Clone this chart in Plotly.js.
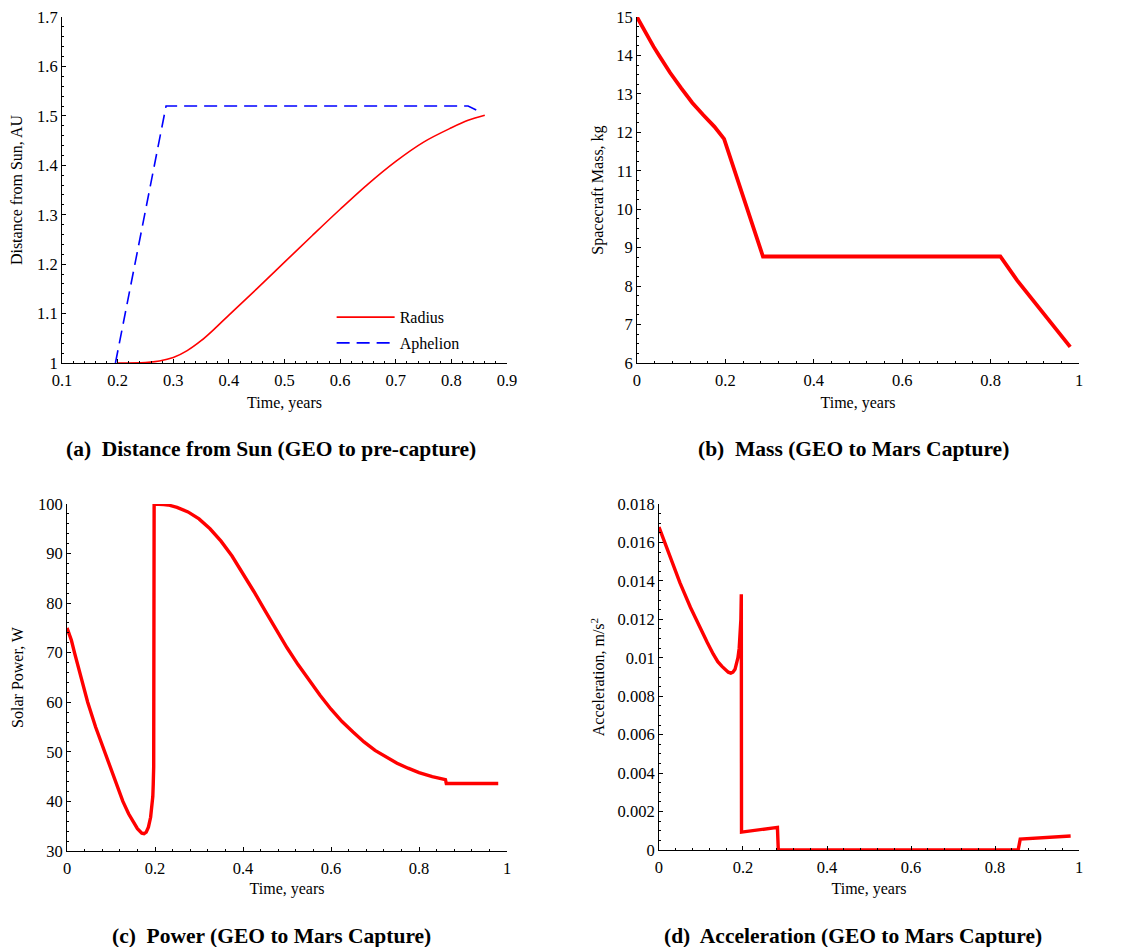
<!DOCTYPE html>
<html>
<head>
<meta charset="utf-8">
<script src="https://cdn.plot.ly/plotly-3.0.1.min.js"></script>
<style>html,body{margin:0;padding:0;background:#fff;}#chart{width:1128px;height:947px;}</style>
</head>
<body>
<div id="chart"></div>
<script>
// (a) Distance from Sun
const radiusT = [0.2, 0.25, 0.275, 0.3, 0.325, 0.35, 0.375, 0.4, 0.45, 0.5, 0.55, 0.6, 0.65, 0.7, 0.75, 0.8, 0.83, 0.86];
const radiusAU = [1.0, 1.001, 1.004, 1.011, 1.025, 1.045, 1.07, 1.097, 1.15, 1.204, 1.258, 1.311, 1.362, 1.408, 1.447, 1.476, 1.491, 1.5015];
const aphelionT = [0.196, 0.287, 0.83, 0.852];
const aphelionAU = [1.0, 1.52, 1.52, 1.508];
// (b) Mass
const massT = [0, 0.0125, 0.025, 0.0375, 0.05, 0.075, 0.1, 0.125, 0.15, 0.175, 0.197, 0.285, 0.822, 0.86, 0.98];
const massKg = [15.0, 14.73, 14.47, 14.23, 14.0, 13.55, 13.15, 12.77, 12.45, 12.15, 11.83, 8.77, 8.77, 8.15, 6.42];
// (c) Power
const powerT = [0, 0.01, 0.017, 0.03, 0.047, 0.065, 0.086, 0.105, 0.127, 0.14, 0.15, 0.16, 0.17, 0.175, 0.18, 0.185, 0.19, 0.193, 0.195, 0.196, 0.197,
                0.198, 0.21, 0.22, 0.23, 0.25, 0.275, 0.3, 0.325, 0.35, 0.375, 0.4, 0.425, 0.45, 0.475, 0.5, 0.525, 0.55, 0.575, 0.6, 0.625, 0.65, 0.675, 0.7, 0.725, 0.75, 0.775, 0.8, 0.83, 0.86, 0.862, 0.98];
const powerW = [75.0, 72.5, 70.0, 65.5, 60.0, 55.0, 50.0, 45.5, 40.0, 37.5, 36.0, 34.5, 33.6, 33.5, 33.8, 34.8, 36.8, 39.0, 41.0, 43.5, 47.0,
                100.0, 100.0, 99.9, 99.8, 99.3, 98.4, 97.0, 95.0, 92.5, 89.5, 86.0, 82.3, 78.5, 74.7, 71.0, 67.6, 64.5, 61.4, 58.6, 56.1, 54.0, 52.0, 50.3, 48.9, 47.7, 46.7, 45.8, 45.0, 44.4, 43.6, 43.6];
// (d) Acceleration
const accT = [0, 0.025, 0.05, 0.075, 0.1, 0.115, 0.129, 0.14, 0.15, 0.158, 0.165, 0.171, 0.176, 0.181, 0.185, 0.188, 0.191, 0.193, 0.195, 0.196,
              0.1965, 0.282, 0.284, 0.855, 0.86, 0.98];
const accMS2 = [0.0168, 0.01535, 0.0139, 0.01262, 0.01145, 0.0108, 0.0102, 0.0098, 0.00955, 0.0094, 0.00925, 0.0092, 0.00925, 0.0094, 0.0097, 0.0100, 0.0105, 0.0111, 0.0120, 0.0133,
                0.00093, 0.00118, 0.0, 0.0, 0.00057, 0.00073];

const captions = ['(a)  Distance from Sun (GEO to pre-capture)', '(b)  Mass (GEO to Mars Capture)', '(c)  Power (GEO to Mars Capture)', '(d)  Acceleration (GEO to Mars Capture)'];
const yTitles = ['Distance from Sun, AU', 'Spacecraft Mass, kg', 'Solar Power, W', 'Acceleration, m/s<sup>2</sup>'];
const xTitle = 'Time, years';

const FONT = '"Liberation Serif", "Times New Roman", serif';
const RED = '#ff0000', BLUE = '#0000ff';

const traces = [
  {x: radiusT, y: radiusAU, name: 'Radius', legendgroup: 'r', type: 'scatter', mode: 'lines', line: {color: RED, width: 1.6, shape: 'spline'}, xaxis: 'x', yaxis: 'y'},
  {x: aphelionT, y: aphelionAU, name: 'Aphelion', legendgroup: 'a', type: 'scatter', mode: 'lines', line: {color: BLUE, width: 1.6, dash: '13px,7px'}, xaxis: 'x', yaxis: 'y'},
  {x: massT, y: massKg, name: 'Mass', type: 'scatter', mode: 'lines', line: {color: RED, width: 3.8}, xaxis: 'x2', yaxis: 'y2', showlegend: false},
  {x: powerT, y: powerW, name: 'Power', type: 'scatter', mode: 'lines', line: {color: RED, width: 3.4}, xaxis: 'x3', yaxis: 'y3', showlegend: false},
  {x: accT, y: accMS2, name: 'Acceleration', type: 'scatter', mode: 'lines', line: {color: RED, width: 3.4}, xaxis: 'x4', yaxis: 'y4', showlegend: false}
];

function mn(d) { return {ticks: 'inside', ticklen: 2, tickcolor: '#000', tickwidth: 1, showgrid: false, dtick: d}; }
function ax(extra) {
  return Object.assign({
    showline: true, linecolor: '#000', linewidth: 1, mirror: false,
    showgrid: false, zeroline: false,
    ticks: 'inside', ticklen: 4, tickcolor: '#000', tickwidth: 1,
    tickfont: {family: FONT, size: 16.5, color: '#000'},
    fixedrange: true
  }, extra);
}
function xt(standoff) { return {text: xTitle, font: {family: FONT, size: 16, color: '#000'}, standoff: standoff}; }
function yt(i, standoff) { return {text: yTitles[i], font: {family: FONT, size: 16, color: '#000'}, standoff: standoff}; }

const layout = {
  width: 1128, height: 947,
  margin: {l: 0, r: 0, t: 0, b: 0},
  paper_bgcolor: '#fff', plot_bgcolor: '#fff',
  font: {family: FONT, color: '#000'},
  showlegend: true,
  legend: {x: 0.294, y: 0.683, xanchor: 'left', yanchor: 'top', bgcolor: 'rgba(0,0,0,0)', borderwidth: 0,
           font: {family: FONT, size: 16, color: '#000'}, itemwidth: 58, tracegroupgap: 2, traceorder: 'grouped'},
  xaxis: ax({domain: [0.055, 0.4495], range: [0.1, 0.9], dtick: 0.1, tick0: 0, anchor: 'y', title: xt(8), ticklabelstandoff: 2, minor: mn(0.02)}),
  yaxis: ax({domain: [0.6167, 0.982], range: [1, 1.7], dtick: 0.1, tick0: 0, anchor: 'x', title: yt(0, 10), minor: mn(0.02)}),
  xaxis2: ax({domain: [0.5647, 0.9566], range: [0, 1], dtick: 0.2, anchor: 'y2', title: xt(8), ticklabelstandoff: 2, minor: mn(0.04)}),
  yaxis2: ax({domain: [0.6167, 0.982], range: [6, 15], dtick: 1, anchor: 'x2', title: yt(1, 8), minor: mn(0.25)}),
  xaxis3: ax({domain: [0.0594, 0.4495], range: [0, 1], dtick: 0.2, anchor: 'y3', title: xt(6), ticklabelstandoff: 2, minor: mn(0.04)}),
  yaxis3: ax({domain: [0.1014, 0.4678], range: [30, 100], dtick: 10, anchor: 'x3', title: yt(2, 10), minor: mn(2)}),
  xaxis4: ax({domain: [0.5842, 0.9566], range: [0, 1], dtick: 0.2, anchor: 'y4', title: xt(6), ticklabelstandoff: 2, minor: mn(0.04)}),
  yaxis4: ax({domain: [0.1024, 0.4678], range: [0, 0.018], dtick: 0.002, anchor: 'x4', title: yt(3, 8), minor: mn(0.0005)}),
  annotations: [
    {text: '<b>' + captions[0] + '</b>', x: 271 / 1128, y: 1 - 449 / 947},
    {text: '<b>' + captions[1] + '</b>', x: 853 / 1128, y: 1 - 449 / 947},
    {text: '<b>' + captions[2] + '</b>', x: 271 / 1128, y: 1 - 936 / 947},
    {text: '<b>' + captions[3] + '</b>', x: 853 / 1128, y: 1 - 936 / 947}
  ].map(a => Object.assign(a, {xref: 'paper', yref: 'paper', xanchor: 'center', yanchor: 'middle', showarrow: false,
                                font: {family: FONT, size: 21.5, color: '#000'}}))
};

Plotly.newPlot('chart', traces, layout, {displayModeBar: false, staticPlot: true});
</script>
</body>
</html>
